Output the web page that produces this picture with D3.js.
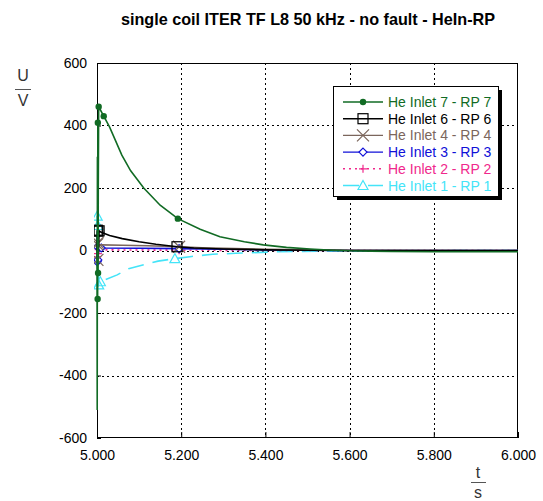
<!DOCTYPE html>
<html>
<head>
<meta charset="utf-8">
<script src="https://cdn.jsdelivr.net/npm/d3@7"></script>
<style>
  body { margin: 0; background: #fff; }
  svg { display: block; font-family: "Liberation Sans", Arial, sans-serif; }
</style>
</head>
<body>
<svg id="chart" width="543" height="501"></svg>
<script>
// ── data ────────────────────────────────────────────────────────
var xTicks = [5.0, 5.2, 5.4, 5.6, 5.8, 6.0];
var yTicks = [-600, -400, -200, 0, 200, 400, 600];

var tInlet7 = [5.0000, 5.0005, 5.0010, 5.0015, 5.0020, 5.0025, 5.0030, 5.0040, 5.0160, 5.0300, 5.0590, 5.0800, 5.1110, 5.1500, 5.1920, 5.2450, 5.2920, 5.3500, 5.3950, 5.4500, 5.5060, 5.5600, 5.6000, 5.6500, 5.7000, 5.8000, 5.9000, 6.0000];
var vInlet7 = [0, -510, 300, -155, 409, -72, 200, 460, 430, 395, 305, 255, 200, 145, 102, 68, 44, 28, 18, 10, 5, 1, -1, -2, -3, -4, -4, -4];
var mInlet7 = [3, 4, 5, 7, 8, 14];

var tInlet6 = [5.0000, 5.0005, 5.0010, 5.0020, 5.0030, 5.0050, 5.0100, 5.0300, 5.0600, 5.1000, 5.1400, 5.1900, 5.2300, 5.3000, 5.4000, 5.5000, 5.6000, 5.8000, 6.0000];
var vInlet6 = [0, 65, -30, 62, -20, 63, 58, 48, 38, 28, 20, 12, 8, 5, 2, 1, 0, 0, 0];
var mInlet6 = [1, 3, 5, 11];

var tInlet4 = [5.0000, 5.0005, 5.0010, 5.0020, 5.0040, 5.0100, 5.0600, 5.1200, 5.1950, 5.2500, 5.3000, 5.4000, 5.5000, 5.6000, 6.0000];
var vInlet4 = [0, 20, -30, 25, 15, 18, 17, 15, 12, 9, 7, 4, 2, 1, 0];
var mInlet4 = [1, 2, 3, 8];

var tInlet3 = [5.0000, 5.0005, 5.0010, 5.0020, 5.0040, 5.0100, 5.1000, 5.1950, 5.3000, 5.4000, 5.5000, 5.6000, 6.0000];
var vInlet3 = [0, -36, 12, -30, 10, 8, 7, 6, 4, 2, 1, 0, 0];
var mInlet3 = [1, 2, 3, 5, 7];

var tInlet2 = [5.0000, 5.0005, 5.0010, 5.0020, 5.0040, 5.0100, 5.1950, 5.4000, 6.0000];
var vInlet2 = [0, -20, 15, -10, 3, 2, 1, 0, 0];
var mInlet2 = [1, 2, 3, 4, 6];

var tInlet1 = [5.0000, 5.0005, 5.0010, 5.0020, 5.0040, 5.0080, 5.0480, 5.0750, 5.1150, 5.1450, 5.1850, 5.2250, 5.2750, 5.3300, 5.4300, 5.5500, 5.7000, 6.0000];
var vInlet1 = [0, 110, -60, 80, -110, -100, -78, -58, -44, -34, -26, -19, -12, -9, -4, -2, -1, 0];
var mInlet1 = [1, 3, 4, 5, 10];

var series = [
  { name: 'He Inlet 7 - RP 7', t: tInlet7, v: vInlet7, marks: mInlet7, color: '#116b24', dash: null,    marker: 'dot' },
  { name: 'He Inlet 6 - RP 6', t: tInlet6, v: vInlet6, marks: mInlet6, color: '#000000', dash: null,    marker: 'square' },
  { name: 'He Inlet 4 - RP 4', t: tInlet4, v: vInlet4, marks: mInlet4, color: '#7b665c', dash: null,    marker: 'cross' },
  { name: 'He Inlet 3 - RP 3', t: tInlet3, v: vInlet3, marks: mInlet3, color: '#1010d8', dash: null,    marker: 'diamond' },
  { name: 'He Inlet 2 - RP 2', t: tInlet2, v: vInlet2, marks: mInlet2, color: '#f0288c', dash: '2,4',   marker: 'plus' },
  { name: 'He Inlet 1 - RP 1', t: tInlet1, v: vInlet1, marks: mInlet1, color: '#44e4f8', dash: '16,9',  marker: 'triangle' }
];

// ── layout ──────────────────────────────────────────────────────
var svg = d3.select('#chart');
var pLeft = 97, pRight = 518, pTop = 63, pBottom = 438;

var x = d3.scaleLinear().domain([5, 6]).range([pLeft, pRight]);
var y = d3.scaleLinear().domain([-600, 600]).range([pBottom, pTop]);

// clip a bit wider on the left so the start-up spikes show over the frame
svg.append('defs').append('clipPath').attr('id', 'plotClip')
  .append('rect').attr('x', pLeft - 3).attr('y', pTop)
  .attr('width', pRight - pLeft + 3).attr('height', pBottom - pTop);

// grid
var grid = svg.append('g').attr('stroke', '#000').attr('stroke-width', 1)
  .attr('stroke-dasharray', '2,3').attr('shape-rendering', 'crispEdges');
grid.selectAll('line.gx').data(xTicks.slice(1, -1)).join('line')
  .attr('class', 'gx')
  .attr('x1', function(d) { return Math.round(x(d)) + 0.5; })
  .attr('x2', function(d) { return Math.round(x(d)) + 0.5; })
  .attr('y1', pTop).attr('y2', pBottom);
grid.selectAll('line.gy').data(yTicks.slice(1, -1)).join('line')
  .attr('class', 'gy')
  .attr('y1', function(d) { return Math.round(y(d)) + 0.5; })
  .attr('y2', function(d) { return Math.round(y(d)) + 0.5; })
  .attr('x1', pLeft).attr('x2', pRight);

// axes with inside ticks (plain hyphen for negatives, as in the original)
var xAxis = svg.append('g').attr('transform', 'translate(0,' + pBottom + ')')
  .call(d3.axisBottom(x).tickValues(xTicks).tickFormat(d3.format('.3f'))
    .tickSizeInner(-6).tickSizeOuter(0).tickPadding(12));
var yAxis = svg.append('g').attr('transform', 'translate(' + pLeft + ',0)')
  .call(d3.axisLeft(y).tickValues(yTicks).tickFormat(function(d) { return String(d); })
    .tickSizeInner(-4).tickSizeOuter(0).tickPadding(10));
[xAxis, yAxis].forEach(function(a) {
  a.select('.domain').remove();
  a.selectAll('text').attr('font-size', 14).attr('fill', '#000')
    .attr('font-family', '"Liberation Sans", Arial, sans-serif');
  a.selectAll('line').attr('stroke', '#000');
});

// frame
svg.append('rect').attr('x', pLeft + 0.5).attr('y', pTop + 0.5)
  .attr('width', pRight - pLeft - 1).attr('height', pBottom - pTop - 1)
  .attr('fill', 'none').attr('stroke', '#000');

// ── series ──────────────────────────────────────────────────────
function drawMarker(g, kind, color, cx, cy) {
  if (kind === 'dot') {
    g.append('circle').attr('cx', cx).attr('cy', cy).attr('r', 3.2).attr('fill', color);
  } else if (kind === 'square') {
    g.append('rect').attr('x', cx - 5).attr('y', cy - 5).attr('width', 10).attr('height', 10)
      .attr('fill', 'none').attr('stroke', color).attr('stroke-width', 1.2);
  } else if (kind === 'cross') {
    g.append('path').attr('d', 'M' + (cx - 6) + ',' + (cy - 6) + 'L' + (cx + 6) + ',' + (cy + 6) +
      'M' + (cx - 6) + ',' + (cy + 6) + 'L' + (cx + 6) + ',' + (cy - 6))
      .attr('stroke', color).attr('stroke-width', 1.2);
  } else if (kind === 'diamond') {
    g.append('path').attr('d', 'M' + cx + ',' + (cy - 4) + 'L' + (cx + 4) + ',' + cy + 'L' + cx + ',' + (cy + 4) + 'L' + (cx - 4) + ',' + cy + 'Z')
      .attr('fill', '#fff').attr('stroke', color).attr('stroke-width', 1.2);
  } else if (kind === 'plus') {
    g.append('path').attr('d', 'M' + (cx - 4) + ',' + cy + 'L' + (cx + 4) + ',' + cy + 'M' + cx + ',' + (cy - 4) + 'L' + cx + ',' + (cy + 4))
      .attr('stroke', color).attr('stroke-width', 1.2);
  } else if (kind === 'triangle') {
    g.append('path').attr('d', 'M' + cx + ',' + (cy - 5) + 'L' + (cx + 5) + ',' + (cy + 4) + 'L' + (cx - 5) + ',' + (cy + 4) + 'Z')
      .attr('fill', 'none').attr('stroke', color).attr('stroke-width', 1.2);
  }
}

var line = d3.line().x(function(d) { return x(d[0]); }).y(function(d) { return y(d[1]); });
var plot = svg.append('g').attr('clip-path', 'url(#plotClip)');

series.slice().reverse().forEach(function(s) {
  var pts = s.t.map(function(t, i) { return [t, s.v[i]]; });
  plot.append('path').datum(pts).attr('d', line)
    .attr('fill', 'none').attr('stroke', s.color).attr('stroke-width', 1.6)
    .attr('stroke-dasharray', s.dash);
  var mg = plot.append('g');
  s.marks.forEach(function(i) { drawMarker(mg, s.marker, s.color, x(pts[i][0]), y(pts[i][1])); });
});

// ── legend ──────────────────────────────────────────────────────
var lg = svg.append('g');
lg.append('rect').attr('x', 337).attr('y', 90).attr('width', 165).attr('height', 110).attr('fill', '#000');
lg.append('rect').attr('x', 333.5).attr('y', 86.5).attr('width', 165).attr('height', 110)
  .attr('fill', '#fff').attr('stroke', '#000');
series.forEach(function(s, i) {
  var ry = 102 + i * 16.7;
  lg.append('line').attr('x1', 343).attr('x2', 383).attr('y1', ry).attr('y2', ry)
    .attr('stroke', s.color).attr('stroke-width', 1.4).attr('stroke-dasharray', s.dash);
  drawMarker(lg, s.marker, s.color, 363, ry);
  lg.append('text').attr('x', 388).attr('y', ry + 5).attr('font-size', 14)
    .attr('fill', s.color).text(s.name);
});

// ── titles ──────────────────────────────────────────────────────
svg.append('text').attr('x', 308).attr('y', 25).attr('text-anchor', 'middle')
  .attr('font-size', 16.2).attr('font-weight', 'bold').text('single coil ITER TF L8 50 kHz - no fault - HeIn-RP');

svg.append('text').attr('x', 23).attr('y', 81).attr('text-anchor', 'middle')
  .attr('font-size', 16).attr('fill', '#333').text('U');
svg.append('line').attr('x1', 15).attr('x2', 31).attr('y1', 89.5).attr('y2', 89.5).attr('stroke', '#555');
svg.append('text').attr('x', 23).attr('y', 106).attr('text-anchor', 'middle')
  .attr('font-size', 16).attr('fill', '#333').text('V');

svg.append('text').attr('x', 478).attr('y', 478).attr('text-anchor', 'middle')
  .attr('font-size', 16).attr('fill', '#333').text('t');
svg.append('line').attr('x1', 471).attr('x2', 486).attr('y1', 482.5).attr('y2', 482.5).attr('stroke', '#555');
svg.append('text').attr('x', 478).attr('y', 498).attr('text-anchor', 'middle')
  .attr('font-size', 16).attr('fill', '#333').text('s');
</script>
</body>
</html>
